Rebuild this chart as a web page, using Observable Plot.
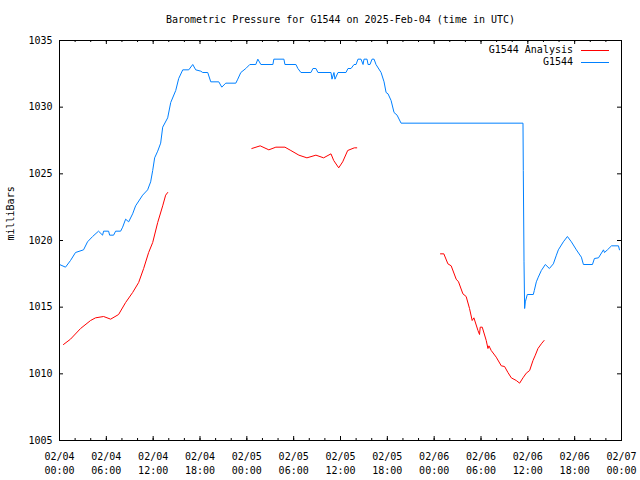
<!DOCTYPE html>
<html><head><meta charset="utf-8">
<script src="https://cdn.jsdelivr.net/npm/d3@7"></script>
<script src="https://cdn.jsdelivr.net/npm/@observablehq/plot@0.6"></script>
<style>body{margin:0;background:#fff}</style>
</head><body><div id="chart"></div>
<script>
const title = "Barometric Pressure for G1544 on 2025-Feb-04 (time in UTC)";
const yLabel = "milliBars";
const startUTC = Date.UTC(2025, 1, 4, 0, 0);
const endUTC = Date.UTC(2025, 1, 7, 0, 0);

// G1544 observations: hours since 2025-02-04 00:00 UTC, pressure (mb)
const stationHours = [0,0.77,1.41,2.05,3.08,3.59,4.24,5.0,5.52,5.65,6.29,6.42,6.93,7.19,7.83,8.09,8.47,8.86,9.37,9.75,10.65,11.29,11.68,11.94,12.19,12.58,12.96,13.22,13.86,14.25,14.89,15.27,15.79,16.56,17.07,17.45,18.1,18.35,18.99,19.38,20.41,20.79,21.3,22.59,22.84,23.23,23.87,24.38,25.15,25.41,25.8,27.34,27.46,28.75,28.88,30.29,30.54,30.93,32.21,32.47,32.85,33.11,34.78,34.91,35.16,35.29,35.68,36.7,36.96,37.35,37.73,37.99,38.24,38.63,38.89,39.01,39.4,39.53,39.78,40.04,40.3,40.55,41.2,41.58,41.84,42.09,42.48,42.86,43.25,43.76,59.38,59.42,59.51,59.59,59.68,59.93,60.7,60.83,61.09,61.34,61.73,62.24,62.76,63.27,63.66,63.91,64.55,65.07,65.58,66.22,66.86,67.12,68.28,68.53,69.05,69.69,69.82,70.2,70.72,71.61,71.74];
const stationValues = [1018.2,1018.0,1018.5,1019.1,1019.3,1019.9,1020.3,1020.7,1020.4,1020.7,1020.7,1020.4,1020.4,1020.7,1020.7,1021.0,1021.6,1021.4,1022.0,1022.6,1023.4,1023.8,1024.4,1025.25,1026.2,1026.7,1027.3,1028.5,1029.2,1030.35,1031.25,1032.15,1032.8,1032.8,1033.2,1032.8,1032.7,1032.6,1032.6,1031.9,1031.9,1031.5,1031.8,1031.8,1032.1,1032.6,1032.9,1033.2,1033.2,1033.6,1033.2,1033.2,1033.6,1033.6,1033.2,1033.2,1032.9,1032.6,1032.6,1032.9,1032.9,1032.6,1032.6,1032.1,1032.6,1032.1,1032.6,1032.6,1032.9,1032.9,1033.2,1033.2,1033.6,1033.6,1033.2,1033.6,1033.6,1033.2,1033.2,1033.6,1033.6,1033.2,1032.6,1031.9,1031.1,1031.0,1030.5,1029.6,1029.4,1028.8,1028.8,1025.25,1018.4,1014.9,1015.4,1015.95,1015.95,1016.25,1016.9,1017.25,1017.75,1018.2,1017.9,1018.25,1018.9,1019.3,1019.9,1020.3,1019.9,1019.3,1018.75,1018.2,1018.2,1018.65,1018.7,1019.3,1019.1,1019.3,1019.6,1019.6,1019.3];

// G1544 Analysis: null values split the three runs
const analysisHours = [0.51,1.41,2.7,3.98,4.62,5.65,6.55,7.57,8.47,9.37,10.14,10.78,11.42,11.94,12.58,13.22,13.6,13.86,
  19,
  24.64,25.71,26.82,27.72,28.88,29.64,30.67,31.7,32.85,33.84,34.78,35.13,35.77,36.28,36.92,37.77,38.08,
  43,
  48.81,49.24,49.76,50.18,50.82,51.12,51.68,52.1,52.53,52.87,53.09,53.61,53.81,53.9,54.16,54.67,54.89,55.02,55.31,55.95,56.6,57.02,57.45,57.88,58.52,58.95,59.38,59.8,60.23,60.66,60.96,61.3,61.73,62.08];
const analysisValues = [1012.2,1012.6,1013.4,1014.0,1014.2,1014.3,1014.1,1014.45,1015.35,1016.1,1016.85,1017.9,1019.1,1019.85,1021.35,1022.6,1023.4,1023.6,
  null,
  1026.9,1027.1,1026.8,1027.0,1027.0,1026.75,1026.4,1026.2,1026.4,1026.2,1026.5,1026.0,1025.45,1025.9,1026.75,1026.95,1026.95,
  null,
  1019.0,1019.0,1018.25,1018.1,1017.1,1016.9,1016.0,1015.8,1014.9,1014.0,1014.2,1013.25,1012.95,1013.5,1013.5,1012.5,1011.9,1012.1,1011.75,1011.25,1010.6,1010.55,1010.1,1009.7,1009.5,1009.3,1009.7,1010.05,1010.25,1011.0,1011.4,1011.9,1012.25,1012.5];

const yTicks = [1005, 1010, 1015, 1020, 1025, 1030, 1035];
const xMajorHours = d3.range(0, 73, 6);
const xMinorHours = d3.range(0, 73, 2);
const legendLabels = ["G1544 Analysis", "G1544"];
const legendColors = ["#ff0000", "#0080ff"];

const toDate = h => new Date(startUTC + h * 3600e3);
const station = stationHours.map((h, i) => ({t: toDate(h), p: stationValues[i]}));
const analysis = analysisHours.map((h, i) => ({t: toDate(h), p: analysisValues[i]}));
const xMajor = xMajorHours.map(toDate);
const xMinor = xMinorHours.map(toDate);

const W = 640, H = 480, mL = 59, mR = 19, mT = 40, mB = 40;
const innerW = W - mL - mR, innerH = H - mT - mB;
const fmt = d3.utcFormat("%m/%d\n%H:%M");

const plot = Plot.plot({
  width: W, height: H,
  marginLeft: mL, marginRight: mR, marginTop: mT, marginBottom: mB,
  style: {fontFamily: "'DejaVu Sans Mono', monospace", fontSize: "10px", background: "#fff", color: "#000"},
  x: {type: "utc", domain: [new Date(startUTC), new Date(endUTC)]},
  y: {domain: [1005, 1035]},
  marks: [
    Plot.line(station, {x: "t", y: "p", stroke: legendColors[1], strokeWidth: 1}),
    Plot.line(analysis, {x: "t", y: "p", stroke: legendColors[0], strokeWidth: 1}),
    Plot.frame({stroke: "#000", strokeWidth: 1}),
    // inward tick marks on all four sides
    Plot.tickY(yTicks, {y: d => d, insetRight: innerW - 4, stroke: "#000"}),
    Plot.tickY(yTicks, {y: d => d, insetLeft: innerW - 4, stroke: "#000"}),
    Plot.tickX(xMinor, {x: d => d, insetTop: innerH - 2, stroke: "#000"}),
    Plot.tickX(xMinor, {x: d => d, insetBottom: innerH - 2, stroke: "#000"}),
    Plot.tickX(xMajor, {x: d => d, insetTop: innerH - 4, stroke: "#000"}),
    Plot.tickX(xMajor, {x: d => d, insetBottom: innerH - 4, stroke: "#000"}),
    Plot.axisY({ticks: yTicks, tickSize: 0, tickPadding: 7, label: null, fontSize: 10, tickFormat: d3.format("d")}),
    Plot.axisX({ticks: xMajor, tickSize: 0, tickPadding: 10, label: null, tickFormat: fmt, lineHeight: 1.4, fontSize: 10}),
    Plot.text([title], {frameAnchor: "top", dy: -21, lineAnchor: "middle", fontSize: 10}),
    Plot.text([yLabel], {frameAnchor: "left", dx: -49, rotate: -90, lineAnchor: "middle", fontSize: 10})
  ]
});

const svg = d3.select(plot);
legendLabels.forEach((lab, i) => {
  const y = 50 + 12 * i;
  svg.append("line").attr("x1", 581).attr("x2", 609).attr("y1", y + 0.5).attr("y2", y + 0.5)
    .attr("stroke", legendColors[i]).attr("stroke-width", 1);
  svg.append("text").attr("x", 573).attr("y", y).attr("text-anchor", "end")
    .attr("dominant-baseline", "middle").attr("font-size", 10).attr("fill", "#000").text(lab);
});

document.getElementById("chart").appendChild(plot);
</script>
</body></html>
